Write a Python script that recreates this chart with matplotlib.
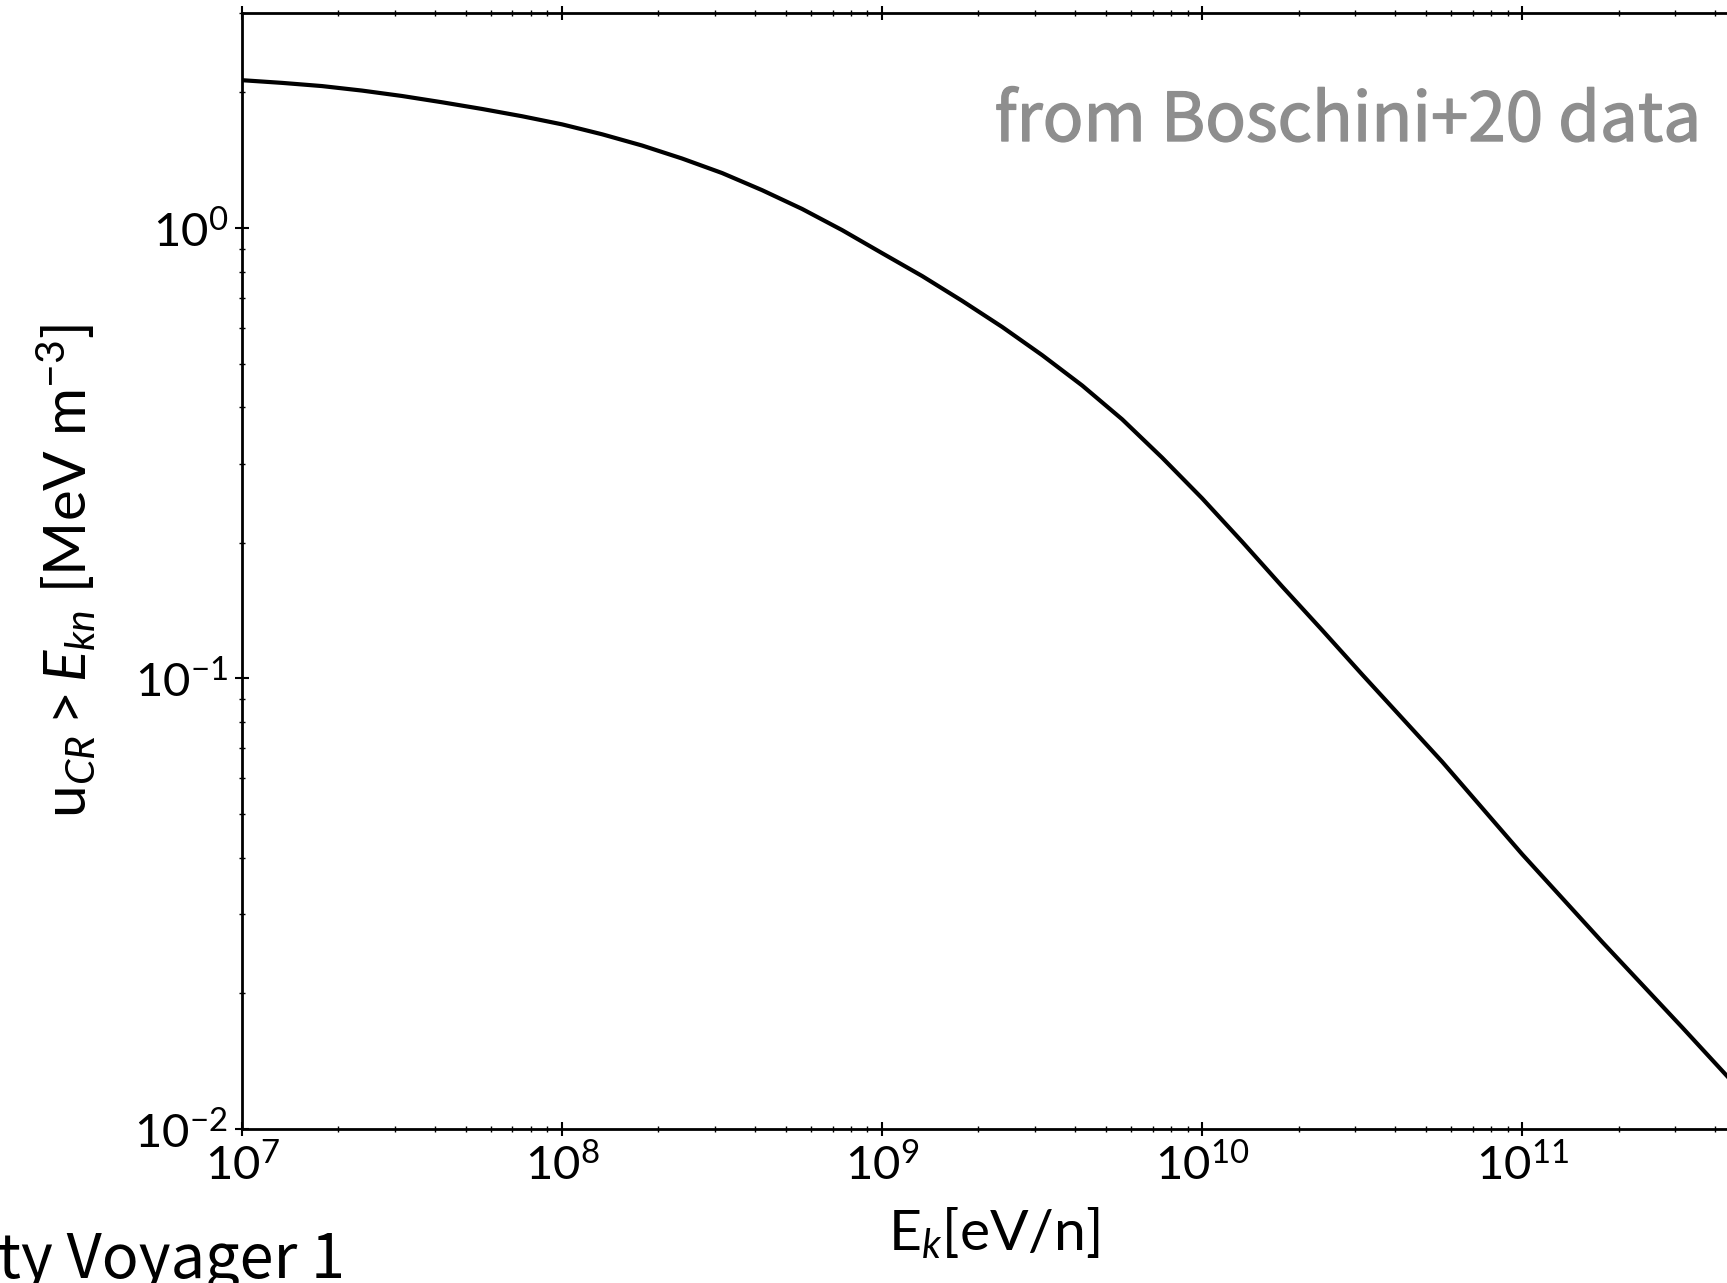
import numpy as np
import matplotlib
matplotlib.use('Agg')
import matplotlib.pyplot as plt
import matplotlib.patheffects as pe

# 读图得到的数据: 动能/核子 与 能量密度 u(>E)
E_kn = [1.0e7, 1.334e7, 1.778e7, 2.371e7, 3.162e7, 4.217e7, 5.623e7, 7.499e7,
        1.0e8, 1.334e8, 1.778e8, 2.371e8, 3.162e8, 4.217e8, 5.623e8, 7.499e8,
        1.0e9, 1.334e9, 1.778e9, 2.371e9, 3.162e9, 4.217e9, 5.623e9, 7.499e9,
        1.0e10, 1.334e10, 1.778e10, 2.371e10, 3.162e10, 5.623e10,
        1.0e11, 1.778e11, 3.162e11, 5.0e11]
u_CR = [2.128, 2.099, 2.065, 2.018, 1.963, 1.901, 1.837, 1.770,
        1.698, 1.614, 1.524, 1.426, 1.324, 1.213, 1.102, 0.989,
        0.879, 0.782, 0.689, 0.603, 0.522, 0.447, 0.376, 0.309,
        0.251, 0.201, 0.160, 0.128, 0.102, 0.0653,
        0.0407, 0.0260, 0.0168, 0.0118]

overlay_txt = 'from Boschini+20 data'
cut_txt = 'ty Voyager 1'

plt.rcParams['font.family'] = ['Lato', 'DejaVu Sans']
plt.rcParams['mathtext.fontset'] = 'custom'
plt.rcParams['mathtext.rm'] = 'Lato'
plt.rcParams['mathtext.it'] = 'Lato:italic'

W, H = 1727, 1283
fig = plt.figure(figsize=(W / 100, H / 100), dpi=100)
ax = fig.add_axes([242 / W, 1 - 1129 / H, (1746 - 242) / W, (1129 - 13) / H])

ax.plot(E_kn, u_CR, color='black', lw=3)
ax.set_xscale('log')
ax.set_yscale('log')
ax.set_xlim(1e7, 5e11)
ax.set_ylim(1e-2, 3)

for s in ax.spines.values():
    s.set_linewidth(2)
ax.tick_params(which='both', direction='inout', top=True, right=True,
               labelsize=34, width=1.5, pad=5)
ax.tick_params(which='major', length=10)
ax.tick_params(which='minor', length=5, width=1)

ax.set_xlabel(r'E$_k$[eV/n]', fontsize=41, labelpad=12)
ax.set_ylabel(r'u$_{CR} > E_{kn}$ [MeV m$^{-3}$]', fontsize=42, labelpad=26)

# 幻灯片上叠加的文字
fig.text(1701 / W, 1 - 141 / H, overlay_txt, ha='right', va='baseline',
         fontsize=48.5, color='#8e8e8e', fontweight='normal',
         family=['Noto Sans CJK KR', 'DejaVu Sans'],
         path_effects=[pe.withStroke(linewidth=1.0, foreground='#8e8e8e')])
fig.text(-2 / W, 1 - 1278 / H, cut_txt, ha='left', va='baseline',
         fontsize=44, color='black', fontweight='light',
         family=['Noto Sans CJK KR', 'DejaVu Sans'])

fig.savefig('out.png', dpi=100)
